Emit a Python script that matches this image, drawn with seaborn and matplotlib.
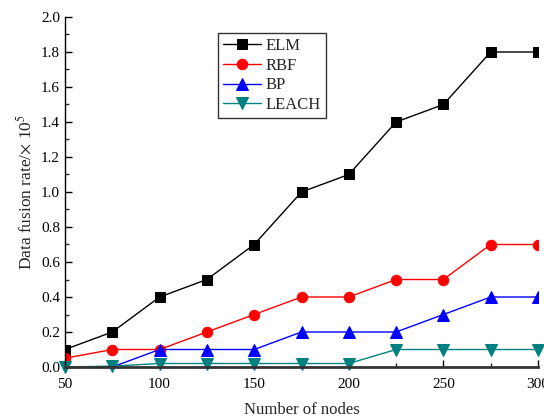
import matplotlib
matplotlib.use("Agg")
import matplotlib.pyplot as plt
import seaborn as sns
import pandas as pd
from matplotlib.ticker import MultipleLocator

nodes = [50, 75, 100, 125, 150, 175, 200, 225, 250, 275, 300]
elm = [0.1, 0.2, 0.4, 0.5, 0.7, 1.0, 1.1, 1.4, 1.5, 1.8, 1.8]
rbf = [0.05, 0.1, 0.1, 0.2, 0.3, 0.4, 0.4, 0.5, 0.5, 0.7, 0.7]
bp = [0.0, 0.0, 0.1, 0.1, 0.1, 0.2, 0.2, 0.2, 0.3, 0.4, 0.4]
leach = [0.0, 0.005, 0.02, 0.02, 0.02, 0.02, 0.02, 0.1, 0.1, 0.1, 0.1]
series_names = ["ELM", "RBF", "BP", "LEACH"]

rows = []
for name, vals in zip(series_names, [elm, rbf, bp, leach]):
    for x, v in zip(nodes, vals):
        rows.append({"nodes": x, "rate": v, "method": name})
df = pd.DataFrame(rows)

sns.set_style("ticks")
plt.rcParams["font.family"] = ["Liberation Serif", "DejaVu Serif"]
plt.rcParams["mathtext.fontset"] = "stix"

fig = plt.figure(figsize=(5.44, 4.19), dpi=100)
ax = fig.add_axes([65/544, 52/419, (538-65)/544, 350/419])

palette = {"ELM": "black", "RBF": "red", "BP": "blue", "LEACH": "#008080"}
markers = {"ELM": "s", "RBF": "o", "BP": "^", "LEACH": "v"}
sizes = {"ELM": 6.5, "RBF": 7.5, "BP": 8.5, "LEACH": 8.5}

for name in series_names:
    sub = df[df.method == name]
    sns.lineplot(data=sub, x="nodes", y="rate", color=palette[name],
                 marker=markers[name], markersize=sizes[name],
                 markeredgecolor=palette[name], linewidth=1, label=name,
                 ax=ax, clip_on=False if name == "LEACH" else True)

ax.set_xlim(50, 300)
ax.set_ylim(0, 2.0)
ax.xaxis.set_major_locator(MultipleLocator(50))
ax.xaxis.set_minor_locator(MultipleLocator(25))
ax.yaxis.set_major_locator(MultipleLocator(0.2))
ax.yaxis.set_minor_locator(MultipleLocator(0.1))
ax.yaxis.set_major_formatter(matplotlib.ticker.FormatStrFormatter("%.1f"))
ax.tick_params(which="major", direction="in", length=5, width=1, labelsize=11, colors="black")
ax.tick_params(which="minor", direction="in", length=3, width=1)
ax.tick_params(axis="x", pad=8)

for s in ["top", "right"]:
    ax.spines[s].set_visible(False)
ax.spines["bottom"].set_linewidth(2)
ax.spines["bottom"].set_color("#333333")
ax.spines["left"].set_linewidth(1)
ax.spines["left"].set_color("black")

ax.set_xlabel("Number of nodes", fontsize=12, labelpad=8)
ax.set_ylabel(r"Data fusion rate/$\times$ 10$^5$", fontsize=12.5, labelpad=4)

leg = ax.legend(loc="upper left", bbox_to_anchor=(0.3235, 0.954), frameon=True,
                fancybox=False, edgecolor="black", fontsize=12,
                handlelength=2.3, borderpad=0.3, labelspacing=0.22,
                borderaxespad=0, handletextpad=0.25)
leg.get_frame().set_linewidth(1)

fig.savefig("out.png", dpi=100)
